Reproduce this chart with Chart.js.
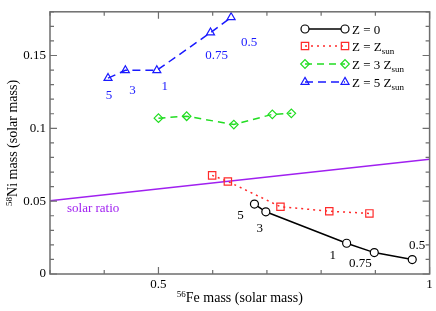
<!DOCTYPE html>
<html>
<head>
<meta charset="utf-8">
<script src="https://cdn.jsdelivr.net/npm/chart.js@4/dist/chart.umd.min.js"></script>
<style>html,body{margin:0;padding:0;background:#fff}</style>
</head>
<body>
<canvas id="myChart" width="436" height="311"></canvas>
<script>
// masses labelled next to the Z=0 and Z=5Zsun points
const massLabels = ['5', '3', '1', '0.75', '0.5'];

const z0Fe = [0.677, 0.698, 0.847, 0.898, 0.968];
const z0Ni = [0.048, 0.0427, 0.0211, 0.0147, 0.0099];
const zSunFe = [0.599, 0.628, 0.725, 0.815, 0.889];
const zSunNi = [0.0677, 0.0635, 0.0462, 0.0431, 0.0416];
const z3Fe = [0.500, 0.552, 0.639, 0.710, 0.745];
const z3Ni = [0.1070, 0.1083, 0.1026, 0.1096, 0.1103];
const z5Fe = [0.407, 0.439, 0.497, 0.596, 0.634];
const z5Ni = [0.1345, 0.1398, 0.1398, 0.1657, 0.1762];
const solarFe = [0.3, 1.0];
const solarNi = [0.0502, 0.0787];

const xTickLabels = ['0.5', '1'];
const yTickLabels = ['0', '0.05', '0.1', '0.15'];

const FONT = 'Liberation Serif, Times New Roman, serif';
Chart.defaults.font.family = FONT;
Chart.defaults.color = '#000';

function pts(xs, ys) {
  return xs.map((x, i) => ({ x: x, y: ys[i] }));
}

const series = [
  { label: 'Z = 0', sub: '', data: pts(z0Fe, z0Ni), color: '#000000', dash: [], style: 'circle', r: 4, fill: '#ffffff' },
  { label: 'Z = Z', sub: 'sun', data: pts(zSunFe, zSunNi), color: '#ff2a2a', dash: [2, 4], style: 'rect', r: 5.2, fill: 'rgba(0,0,0,0)' },
  { label: 'Z = 3 Z', sub: 'sun', data: pts(z3Fe, z3Ni), color: '#22dd22', dash: [7, 5], style: 'rectRot', r: 4.3, fill: 'rgba(0,0,0,0)' },
  { label: 'Z = 5 Z', sub: 'sun', data: pts(z5Fe, z5Ni), color: '#1a1aff', dash: [8, 5], style: 'triangle', r: 4.6, fill: 'rgba(0,0,0,0)' }
];

const datasets = series.map(s => ({
  label: s.label + s.sub,
  data: s.data,
  showLine: true,
  borderColor: s.color,
  borderWidth: 1.5,
  borderDash: s.dash,
  pointStyle: s.style,
  pointRadius: s.r,
  pointBorderWidth: 1.2,
  pointBorderColor: s.color,
  pointBackgroundColor: s.fill,
  tension: 0
}));
datasets.push({
  label: 'solar ratio',
  data: pts(solarFe, solarNi),
  showLine: true,
  borderColor: '#a020f0',
  borderWidth: 1.5,
  pointRadius: 0
});

function textWithScript(ctx, parts, x, y) {
  // parts: [text, size, dy]
  let cx = x;
  parts.forEach(p => {
    ctx.font = p[1] + 'px ' + FONT;
    ctx.fillText(p[0], cx, y + p[2]);
    cx += ctx.measureText(p[0]).width;
  });
}
function scriptWidth(ctx, parts) {
  let w = 0;
  parts.forEach(p => {
    ctx.font = p[1] + 'px ' + FONT;
    w += ctx.measureText(p[0]).width;
  });
  return w;
}

const decor = {
  id: 'decor',
  afterDatasetsDraw(chart) {
    const ctx = chart.ctx;
    const a = chart.chartArea;
    const xs = chart.scales.x;
    const ys = chart.scales.y;
    ctx.save();

    // frame with inward ticks
    ctx.strokeStyle = '#6e6e6e';
    ctx.lineWidth = 1.5;
    ctx.strokeRect(a.left, a.top, a.right - a.left, a.bottom - a.top);
    ctx.lineWidth = 1.2;
    ctx.beginPath();
    for (let i = 0; i <= 18; i++) {
      const py = ys.getPixelForValue(i / 100);
      const len = i % 5 === 0 ? 7 : 4;
      ctx.moveTo(a.left, py); ctx.lineTo(a.left + len, py);
      ctx.moveTo(a.right, py); ctx.lineTo(a.right - len, py);
    }
    for (let i = 3; i <= 10; i++) {
      const px = xs.getPixelForValue(i / 10);
      const len = i % 5 === 0 ? 7 : 4;
      ctx.moveTo(px, a.bottom); ctx.lineTo(px, a.bottom - len);
      ctx.moveTo(px, a.top); ctx.lineTo(px, a.top + len);
    }
    ctx.stroke();

    // mass labels next to points
    ctx.font = '13px ' + FONT;
    ctx.textAlign = 'center';
    ctx.textBaseline = 'middle';
    const offs = [
      { ds: 0, color: '#000', d: [[-14, 11], [-6, 17], [-14, 12], [-14, 11], [5, -14]] },
      { ds: 3, color: '#1a1aff', d: [[1, 17], [7, 20], [8, 16], [6, 23], [18, 25]] }
    ];
    offs.forEach(o => {
      ctx.fillStyle = o.color;
      chart.getDatasetMeta(o.ds).data.forEach((pt, i) => {
        ctx.fillText(massLabels[i], pt.x + o.d[i][0], pt.y + o.d[i][1]);
      });
    });

    // solar ratio label
    ctx.fillStyle = '#a020f0';
    ctx.textAlign = 'left';
    ctx.fillText('solar ratio', 67, 209);

    // legend
    ctx.textBaseline = 'alphabetic';
    series.forEach((s, i) => {
      const ly = [29, 46, 64, 82][i];
      ctx.strokeStyle = s.color;
      ctx.lineWidth = 1.5;
      ctx.setLineDash(s.dash);
      ctx.beginPath();
      ctx.moveTo(305, ly); ctx.lineTo(345, ly);
      ctx.stroke();
      ctx.setLineDash([]);
      ctx.lineWidth = 1.2;
      ctx.fillStyle = s.fill;
      [305, 345].forEach(px => {
        Chart.helpers.drawPoint(ctx, { pointStyle: s.style, radius: s.r, borderWidth: 1.2 }, px, ly);
      });
      ctx.fillStyle = '#000';
      const parts = [[s.label, 13, 0]];
      if (s.sub) parts.push([s.sub, 9, 3]);
      textWithScript(ctx, parts, 352, ly + 5);
    });

    // axis titles
    ctx.fillStyle = '#000';
    const xt = [['56', 9, -5], ['Fe mass (solar mass)', 14, 0]];
    const xw = scriptWidth(ctx, xt);
    textWithScript(ctx, xt, (a.left + a.right) / 2 - xw / 2, 302);

    const yt = [['58', 9, -5], ['Ni mass (solar mass)', 14, 0]];
    const yw = scriptWidth(ctx, yt);
    ctx.translate(17, (a.top + a.bottom) / 2);
    ctx.rotate(-Math.PI / 2);
    textWithScript(ctx, yt, -yw / 2, 0);

    ctx.restore();
  }
};

const ctx = document.getElementById('myChart').getContext('2d');
new Chart(ctx, {
  type: 'scatter',
  data: { datasets: datasets },
  options: {
    responsive: false,
    animation: false,
    devicePixelRatio: 1,
    layout: { padding: { left: 0, right: 5, top: 1, bottom: 0 } },
    plugins: { legend: { display: false }, tooltip: { enabled: false } },
    scales: {
      x: {
        type: 'linear',
        min: 0.3,
        max: 1.0,
        grid: { display: false, drawTicks: false },
        border: { display: false },
        ticks: {
          stepSize: 0.1,
          autoSkip: false,
          maxRotation: 0,
          padding: 3,
          font: { size: 13 },
          callback: v => {
            const s = String(Math.round(v * 100) / 100);
            return xTickLabels.includes(s) ? s : '';
          }
        },
        afterFit: s => { s.height = 37; }
      },
      y: {
        type: 'linear',
        min: 0,
        max: 0.18,
        grid: { display: false, drawTicks: false },
        border: { display: false },
        ticks: {
          stepSize: 0.01,
          autoSkip: false,
          padding: 4,
          font: { size: 13 },
          callback: v => {
            const s = String(Math.round(v * 100) / 100);
            return yTickLabels.includes(s) ? s : '';
          }
        },
        afterFit: s => { s.width = 50; }
      }
    }
  },
  plugins: [decor]
});
</script>
</body>
</html>
